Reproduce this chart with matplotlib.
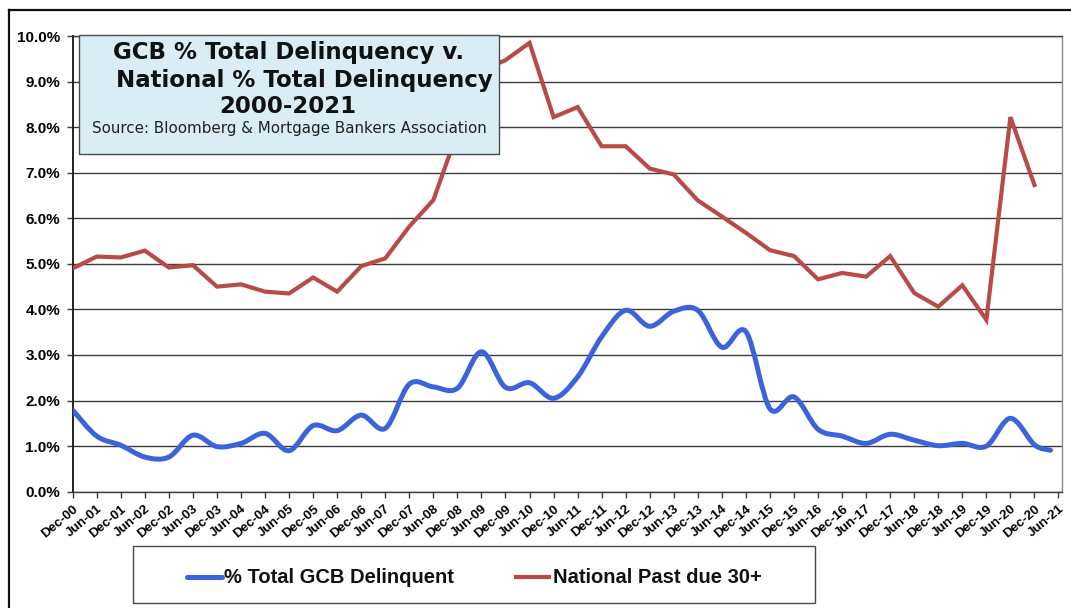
import numpy as np
import matplotlib.pyplot as plt
from matplotlib.path import Path
from matplotlib.patches import PathPatch, Rectangle
from matplotlib.lines import Line2D

W, H = 1071, 608

# half-year category labels along the bottom axis
tick_labels = [
    "Dec-00", "Jun-01", "Dec-01", "Jun-02", "Dec-02", "Jun-03", "Dec-03",
    "Jun-04", "Dec-04", "Jun-05", "Dec-05", "Jun-06", "Dec-06", "Jun-07",
    "Dec-07", "Jun-08", "Dec-08", "Jun-09", "Dec-09", "Jun-10", "Dec-10",
    "Jun-11", "Dec-11", "Jun-12", "Dec-12", "Jun-13", "Dec-13", "Jun-14",
    "Dec-14", "Jun-15", "Dec-15", "Jun-16", "Dec-16", "Jun-17", "Dec-17",
    "Jun-18", "Dec-18", "Jun-19", "Dec-19", "Jun-20", "Dec-20", "Jun-21",
]

# months since Dec-2000 for each observation
national_months = list(range(0, 241, 6))
gcb_months = list(range(0, 241, 6)) + [244]

# National past due 30+ (%), Dec-00 .. Dec-20
national_pct = [
    4.90, 5.16, 5.14, 5.29, 4.92, 4.97, 4.50, 4.55, 4.39, 4.35, 4.70,
    4.39, 4.95, 5.12, 5.82, 6.40, 7.88, 9.24, 9.47, 9.85, 8.22, 8.44,
    7.58, 7.58, 7.09, 6.96, 6.39, 6.04, 5.68, 5.30, 5.17, 4.66, 4.80,
    4.72, 5.17, 4.36, 4.06, 4.53, 3.77, 8.22, 6.73,
]

# % total GCB delinquent, Dec-00 .. Dec-20 plus the latest reading
gcb_pct = [
    1.79, 1.22, 1.02, 0.76, 0.76, 1.24, 0.99, 1.06, 1.28, 0.90, 1.45,
    1.34, 1.68, 1.39, 2.36, 2.30, 2.27, 3.07, 2.29, 2.39, 2.05, 2.52,
    3.40, 3.98, 3.63, 3.96, 3.98, 3.17, 3.51, 1.82, 2.08, 1.37, 1.22,
    1.06, 1.26, 1.13, 1.01, 1.06, 1.00, 1.61, 1.03, 0.91,
]

blue = "#3B64DB"
red = "#B84A47"
grid_col = "#3c3c3c"


def smooth_path(x, y):
    # Catmull-Rom style bezier through every point (spreadsheet "smoothed line")
    pts = np.column_stack([x, y]).astype(float)
    n = len(pts)
    verts = [pts[0]]
    codes = [Path.MOVETO]
    for i in range(n - 1):
        p0 = pts[max(i - 1, 0)]
        p1 = pts[i]
        p2 = pts[i + 1]
        p3 = pts[min(i + 2, n - 1)]
        verts += [p1 + (p2 - p0) / 6.0, p2 - (p3 - p1) / 6.0, p2]
        codes += [Path.CURVE4] * 3
    return Path(verts, codes)


def fx(px):
    return px / W


def fy(py):
    return 1 - py / H


fig = plt.figure(figsize=(W / 100, H / 100), dpi=100)
ax = fig.add_axes([fx(72.7), fy(491.7), fx(1061.7) - fx(72.7), fy(36) - fy(491.7)])

ax.add_patch(PathPatch(smooth_path(gcb_months, gcb_pct), fill=False,
                       edgecolor=blue, lw=3.6, capstyle="round",
                       joinstyle="round", zorder=3))
ax.plot(national_months, national_pct, color=red, lw=3.0,
        solid_joinstyle="miter", zorder=3)

ax.set_xlim(0, 246.8)
ax.set_ylim(0, 10)
ax.set_yticks(np.arange(0, 11, 1))
ax.set_yticklabels([f"{v:.1f}%" for v in np.arange(0, 11, 1)],
                   fontfamily="Liberation Sans", fontweight="bold", fontsize=11)
ax.set_xticks(np.arange(0, 247, 6))
ax.set_xticklabels(tick_labels, rotation=40, ha="right", va="top",
                   rotation_mode="anchor", fontfamily="Liberation Sans",
                   fontweight="bold", fontsize=9.5)
ax.tick_params(axis="y", length=4, width=1, color=grid_col, pad=5)
ax.tick_params(axis="x", length=4, width=1, color=grid_col, pad=4)
ax.yaxis.grid(True, color=grid_col, lw=1.0)
ax.set_axisbelow(True)

ax.spines["left"].set_color("#222222")
ax.spines["left"].set_linewidth(1.4)
ax.spines["bottom"].set_color(grid_col)
ax.spines["bottom"].set_linewidth(1.0)
ax.spines["top"].set_color(grid_col)
ax.spines["top"].set_linewidth(1.0)
ax.spines["right"].set_color("#8a8a8a")
ax.spines["right"].set_linewidth(1.0)

# title box over the top-left of the plot
fig.add_artist(Rectangle((fx(79), fy(154)), fx(499) - fx(79), fy(35) - fy(154),
                         transform=fig.transFigure, facecolor="#DAEDF4",
                         edgecolor="#4a4a4a", lw=1.0, zorder=4))
title_kw = dict(fontfamily="DejaVu Sans", fontweight="bold", fontsize=16.5,
                ha="center", va="baseline", color="#111111", zorder=5)
fig.text(fx(289), fy(59.5), "GCB % Total Delinquency v.", **title_kw)
fig.text(fx(304), fy(86.5), "National % Total Delinquency", **title_kw)
fig.text(fx(288), fy(113.3), "2000-2021", **title_kw)
fig.text(fx(289), fy(133.3), "Source: Bloomberg & Mortgage Bankers Association",
         fontfamily="DejaVu Sans", fontsize=10.9, ha="center", va="baseline",
         color="#222222", zorder=5)

# legend box below the axis
fig.add_artist(Rectangle((fx(133), fy(603)), fx(815) - fx(133), fy(546) - fy(603),
                         transform=fig.transFigure, facecolor="white",
                         edgecolor="#4a4a4a", lw=1.0, zorder=4))
leg_kw = dict(fontfamily="Liberation Sans", fontweight="bold", fontsize=14.5,
              ha="left", va="baseline", color="#111111", zorder=5)
fig.add_artist(Line2D([fx(187), fx(222)], [fy(577), fy(577)], color=blue,
                      lw=3.6, solid_capstyle="round", zorder=5))
fig.text(fx(224), fy(583), "% Total GCB Delinquent", **leg_kw)
fig.add_artist(Line2D([fx(516), fx(549)], [fy(577), fy(577)], color=red,
                      lw=3.0, zorder=5))
fig.text(fx(553), fy(583), "National Past due 30+", **leg_kw)

# outer frame on the top and left edge
fig.add_artist(Line2D([fx(9), fx(9)], [fy(10), 0], color="#111111", lw=1.6))
fig.add_artist(Line2D([fx(9), 1], [fy(10), fy(10)], color="#111111", lw=1.6))

fig.savefig("out.png", dpi=100)
